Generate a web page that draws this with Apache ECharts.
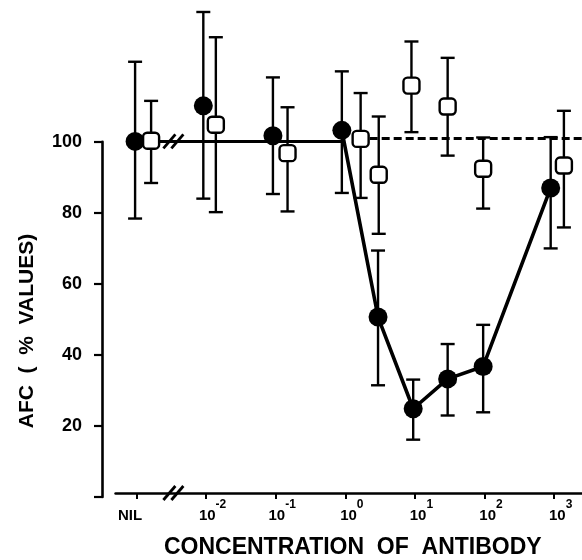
<!DOCTYPE html>
<html>
<head>
<meta charset="utf-8">
<script src="https://cdn.jsdelivr.net/npm/echarts@6/dist/echarts.min.js"></script>
<style>html,body{margin:0;padding:0;background:#fff;}#c{width:582px;height:560px;}</style>
</head>
<body>
<div id="c"></div>
<script>
// ---- data (x = log10 concentration; NIL placed at -3) ----
const xTicks = [-3, -2, -1, 0, 1, 2, 3];
const xTickLabels = ['NIL', '-2', '-1', '0', '1', '2', '3'];
const yTicks = [20, 40, 60, 80, 100];

const circleX  = [-3.02, -2.04, -1.04, -0.05, 0.47, 0.975, 1.47, 1.98, 2.95];
const circleY  = [100, 110, 101.6, 103.1, 50.6, 24.8, 33.2, 36.7, 86.9];
const circleHi = [122.4, 136.4, 118.0, 119.7, 69.3, 33.0, 43.0, 48.4, 101.2];
const circleLo = [78.3, 83.9, 85.2, 85.5, 31.4, 16.1, 22.9, 23.8, 69.9];

const squareX  = [-2.79, -1.86, -0.83, 0.22, 0.48, 0.95, 1.47, 1.98, 3.14];
const squareY  = [100.2, 104.7, 96.7, 100.7, 90.6, 115.7, 109.8, 92.3, 93.2];
const squareHi = [111.4, 129.3, 109.6, 113.6, 107.0, 128.1, 123.5, 101.1, 108.6];
const squareLo = [88.3, 80.1, 80.3, 84.1, 74.0, 102.6, 96.0, 81.1, 75.8];

const solidRef = 100;       // solid control line, NIL .. 10^0
const dashedRef = 101;      // dashed control line
const dashedStart = 0.35;
const breakAt = -2.47;      // axis break position

const FONT = "'Liberation Sans', Arial, sans-serif";

const chart = echarts.init(document.getElementById('c'));

const circlePts = circleX.map((x, i) => [x, circleY[i]]);
const squarePts = squareX.map((x, i) => [x, squareY[i]]);
const errData = circleX.map((x, i) => [x, circleLo[i], circleHi[i]])
  .concat(squareX.map((x, i) => [x, squareLo[i], squareHi[i]]));
const linePts = circlePts.slice(3);

function renderErr(params, api) {
  const x = api.value(0);
  const lo = api.coord([x, api.value(1)]);
  const hi = api.coord([x, api.value(2)]);
  const w = 7;
  const st = { stroke: '#000', lineWidth: 2.4 };
  return {
    type: 'group',
    children: [
      { type: 'line', shape: { x1: lo[0], y1: lo[1], x2: hi[0], y2: hi[1] }, style: st },
      { type: 'line', shape: { x1: lo[0] - w, y1: lo[1], x2: lo[0] + w, y2: lo[1] }, style: st },
      { type: 'line', shape: { x1: hi[0] - w, y1: hi[1], x2: hi[0] + w, y2: hi[1] }, style: st }
    ]
  };
}

const option = {
  backgroundColor: '#fff',
  animation: false,
  grid: [
    { left: 115.6, right: 0, top: 6.3, bottom: 67, containLabel: false, outerBoundsMode: 'none' },
    { left: 102, width: 10, top: 141.7, bottom: 63, containLabel: false, outerBoundsMode: 'none' }
  ],
  xAxis: [
    {
      gridIndex: 0, type: 'value', min: -3.3, max: 3.4,
      splitLine: { show: false },
      axisLine: { show: true, lineStyle: { color: '#000', width: 2.6 } },
      axisTick: { show: true, customValues: xTicks, length: 6, inside: false, lineStyle: { color: '#000', width: 2 } },
      axisLabel: {
        show: true, customValues: xTicks, margin: 6, color: '#000',
        formatter: function (v) {
          const i = xTicks.indexOf(Math.round(v));
          if (i === 0) return '{nil|' + xTickLabels[0] + '}{sp|}';
          return '{sp|}{b|10}{sup|' + xTickLabels[i] + '}';
        },
        rich: {
          nil: { fontFamily: FONT, fontWeight: 'bold', fontSize: 15, color: '#000', verticalAlign: 'bottom', lineHeight: 24 },
          b: { fontFamily: FONT, fontWeight: 'bold', fontSize: 15, color: '#000', verticalAlign: 'bottom', lineHeight: 24 },
          sup: { fontFamily: FONT, fontWeight: 'bold', fontSize: 12, color: '#000', verticalAlign: 'top', lineHeight: 14 },
          sp: { width: 13 }
        }
      },
      name: 'CONCENTRATION  OF  ANTIBODY',
      nameLocation: 'middle',
      nameGap: 43,
      nameTextStyle: { fontFamily: FONT, fontWeight: 'bold', fontSize: 23, color: '#000', padding: [0, 0, 0, 8] }
    },
    { gridIndex: 1, type: 'value', show: false }
  ],
  yAxis: [
    { gridIndex: 0, type: 'value', min: 1.1, max: 138, show: false },
    {
      gridIndex: 1, type: 'value', min: 0, max: 100, interval: 20,
      splitLine: { show: false },
      axisLine: { show: true, lineStyle: { color: '#000', width: 2.6 } },
      axisTick: { show: true, length: 8, lineStyle: { color: '#000', width: 2.2 } },
      axisLabel: {
        margin: 20, color: '#000', fontFamily: FONT, fontWeight: 'bold', fontSize: 18,
        formatter: function (v) { return yTicks.indexOf(v) >= 0 ? String(v) : ''; }
      }
    }
  ],
  graphic: [
    {
      type: 'text', x: 27, y: 331, rotation: Math.PI / 2,
      style: { text: 'AFC  (  %  VALUES)', fontFamily: FONT, fontWeight: 'bold', fontSize: 21, fill: '#000', align: 'center', verticalAlign: 'middle' }
    }
  ],
  series: [
    {
      type: 'custom', xAxisIndex: 0, yAxisIndex: 0, renderItem: renderErr,
      data: errData, silent: true, z: 2
    },
    {
      type: 'line', xAxisIndex: 0, yAxisIndex: 0, data: linePts,
      symbol: 'none', lineStyle: { color: '#000', width: 3.6 }, silent: true, z: 3,
      markLine: {
        silent: true, symbol: 'none', label: { show: false },
        data: [
          [{ coord: [circleX[0], solidRef], lineStyle: { type: 'solid', width: 3.2, color: '#000' } },
           { coord: [circleX[3], solidRef] }],
          [{ coord: [dashedStart, dashedRef], lineStyle: { type: [8, 4], width: 3, color: '#000' } },
           { coord: [3.4, dashedRef] }]
        ]
      }
    },
    {
      type: 'scatter', xAxisIndex: 0, yAxisIndex: 0, data: circlePts,
      symbol: 'circle', symbolSize: 19, itemStyle: { color: '#000', opacity: 1 }, silent: true, z: 5
    },
    {
      type: 'scatter', xAxisIndex: 0, yAxisIndex: 0, data: squarePts,
      symbol: 'roundRect', symbolSize: [16, 16],
      itemStyle: { color: '#fff', borderColor: '#000', borderWidth: 2.4, opacity: 1 }, silent: true, z: 6
    }
  ]
};

chart.setOption(option);

// axis-break marks "//" on the control line and on the x axis
function slashes(p) {
  const st = { stroke: '#000', lineWidth: 2.8 };
  return [-4, 4].map(d => ({
    type: 'line',
    shape: { x1: p[0] + d - 6, y1: p[1] + 7, x2: p[0] + d + 6, y2: p[1] - 7 },
    style: st, z: 10
  }));
}
const pLine = chart.convertToPixel({ gridIndex: 0 }, [breakAt, solidRef]);
const pAxis = chart.convertToPixel({ gridIndex: 0 }, [breakAt, 1.1]);
chart.setOption({
  graphic: option.graphic.concat(slashes(pLine), slashes(pAxis))
});
</script>
</body>
</html>
